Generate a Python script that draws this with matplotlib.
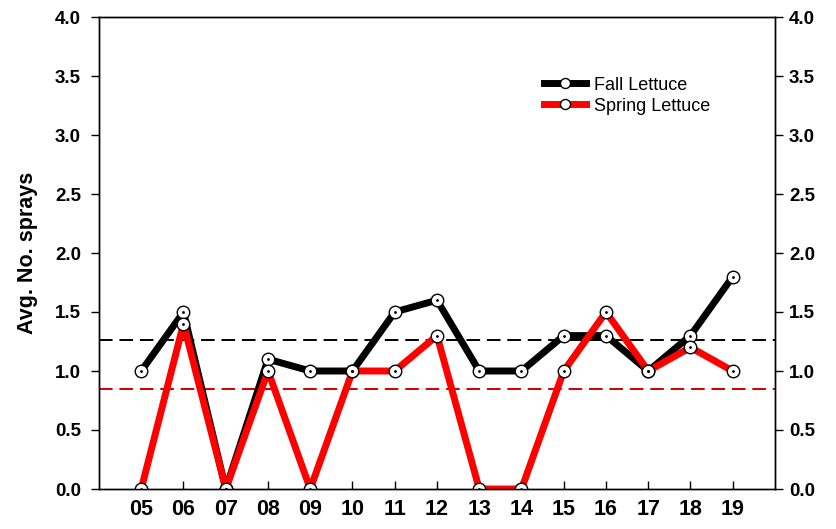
import numpy as np
import matplotlib.pyplot as plt

plt.rcParams['font.family'] = ['Liberation Sans', 'DejaVu Sans']

# data
years = ["05", "06", "07", "08", "09", "10", "11", "12", "13", "14", "15", "16", "17", "18", "19"]
fall = [1.0, 1.5, 0.0, 1.1, 1.0, 1.0, 1.5, 1.6, 1.0, 1.0, 1.3, 1.3, 1.0, 1.3, 1.8]
spring = [0.0, 1.4, 0.0, 1.0, 0.0, 1.0, 1.0, 1.3, 0.0, 0.0, 1.0, 1.5, 1.0, 1.2, 1.0]
fall_ref = 1.26
spring_ref = 0.845

x = np.arange(5, 5 + len(years))
yt = np.arange(0, 4.01, 0.5)
ytl = [f"{v:.1f}" for v in yt]

fig = plt.figure(figsize=(8.37, 5.29), dpi=100)
ax = fig.add_axes([99 / 837, 40 / 529, 676 / 837, 472 / 529])

ax.axhline(fall_ref, color="black", lw=1.4, dashes=(7, 3.5), zorder=1)
ax.axhline(spring_ref, color="#cc0000", lw=1.4, dashes=(7, 3.5), zorder=1)

mk = dict(marker="o", ms=9, mfc="white", mec="black", mew=1.0)
ax.plot(x, fall, color="black", lw=5, zorder=2, label="Fall Lettuce", **mk)
ax.plot(x, spring, color="red", lw=5, zorder=3, label="Spring Lettuce", **mk)
# little dots in the centre of the circles
ax.plot(x, fall, ls="none", marker=".", ms=2, color="black", zorder=4)
ax.plot(x, spring, ls="none", marker=".", ms=2, color="black", zorder=4)

ax.set_xlim(4, 20)
ax.set_ylim(0, 4.0)
ax.set_xticks(x)
ax.set_xticklabels(years, fontweight="bold")
ax.set_yticks(yt)
ax.set_yticklabels(ytl, fontweight="bold")

ax.tick_params(axis="x", direction="in", length=6, width=1, labelsize=15.5, pad=7)
ax.tick_params(axis="y", direction="out", length=6, width=1, labelsize=13.5, pad=7)

# right hand axis with the same scale
ax2 = ax.twinx()
ax2.set_ylim(0, 4.0)
ax2.set_yticks(yt)
ax2.set_yticklabels(ytl, fontweight="bold")
ax2.tick_params(axis="y", direction="out", length=6, width=1, labelsize=13.5, pad=4)

for a in (ax, ax2):
    for s in a.spines.values():
        s.set_linewidth(1.0)

ax.set_ylabel("Avg. No. sprays", fontsize=15.5, fontweight="bold", labelpad=12)

ax.legend(loc="upper left", bbox_to_anchor=(0.645, 0.893), frameon=False,
          fontsize=13, handlelength=2.3, handletextpad=0.45, labelspacing=0.22,
          borderpad=0, markerscale=0.8)

fig.savefig("out.png", dpi=100)
